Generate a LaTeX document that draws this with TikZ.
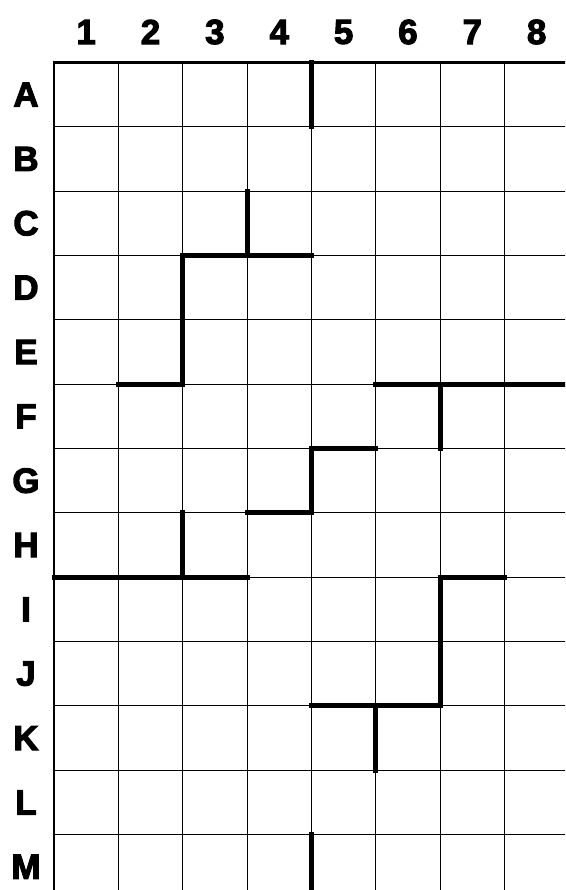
\documentclass[tikz,border=0pt]{standalone}
\usepackage{fontspec}
\newfontfamily\labfont[FakeBold=3]{Liberation Sans Bold}
\begin{document}
\begin{tikzpicture}[x=1pt,y=-1pt,
  gridline/.style={line width=1.1pt,black},
  outerline/.style={line width=2.6pt,black},
  wall/.style={line width=5pt,black,line cap=rect},
  lab/.style={font=\labfont\fontsize{35}{35}\selectfont,inner sep=0pt,anchor=center}]
\useasboundingbox (0,0) rectangle (565,890);
\clip (0,0) rectangle (565,890);
\def\gx{54}\def\gy{62.4}\def\cw{64.35}
% grid lines
\foreach \i in {1,...,8} \draw[gridline] (\gx+\i*\cw,\gy) -- (\gx+\i*\cw,900);
\foreach \j in {1,...,13} \draw[gridline] (\gx,\gy+\j*\cw) -- (570,\gy+\j*\cw);
\draw[outerline] (570,\gy) -- (\gx,\gy) -- (\gx,900);
% column labels
\foreach \k [count=\n] in {1,...,8}
  \node[lab] (c\n) at (\gx+\cw*\n-\cw/2,32) {\k};
% row labels
\foreach \L [count=\n] in {A,B,C,D,E,F,G,H,I,J,K,L,M}
  \node[lab] (r\n) at (26,\gy+\cw*\n-\cw/2) {\L};
% walls
\newcommand{\wv}[3]{\draw[wall] (\gx+#1*\cw,\gy+#2*\cw) -- (\gx+#1*\cw,\gy+#3*\cw);}
\newcommand{\wh}[3]{\draw[wall] (\gx+#2*\cw,\gy+#1*\cw) -- (\gx+#3*\cw,\gy+#1*\cw);}
\wv{4}{0}{1}
\wv{3}{2}{3}
\wh{3}{2}{4}
\wv{2}{3}{5}
\wh{5}{1}{2}
\wh{5}{5}{8.2}
\wv{6}{5}{6}
\wh{6}{4}{5}
\wv{4}{6}{7}
\wh{7}{3}{4}
\wv{2}{7}{8}
\wh{8}{0}{3}
\wh{8}{6}{7}
\wv{6}{8}{10}
\wh{10}{4}{6}
\wv{5}{10}{11}
\wv{4}{12}{13.2}
\end{tikzpicture}
\end{document}
